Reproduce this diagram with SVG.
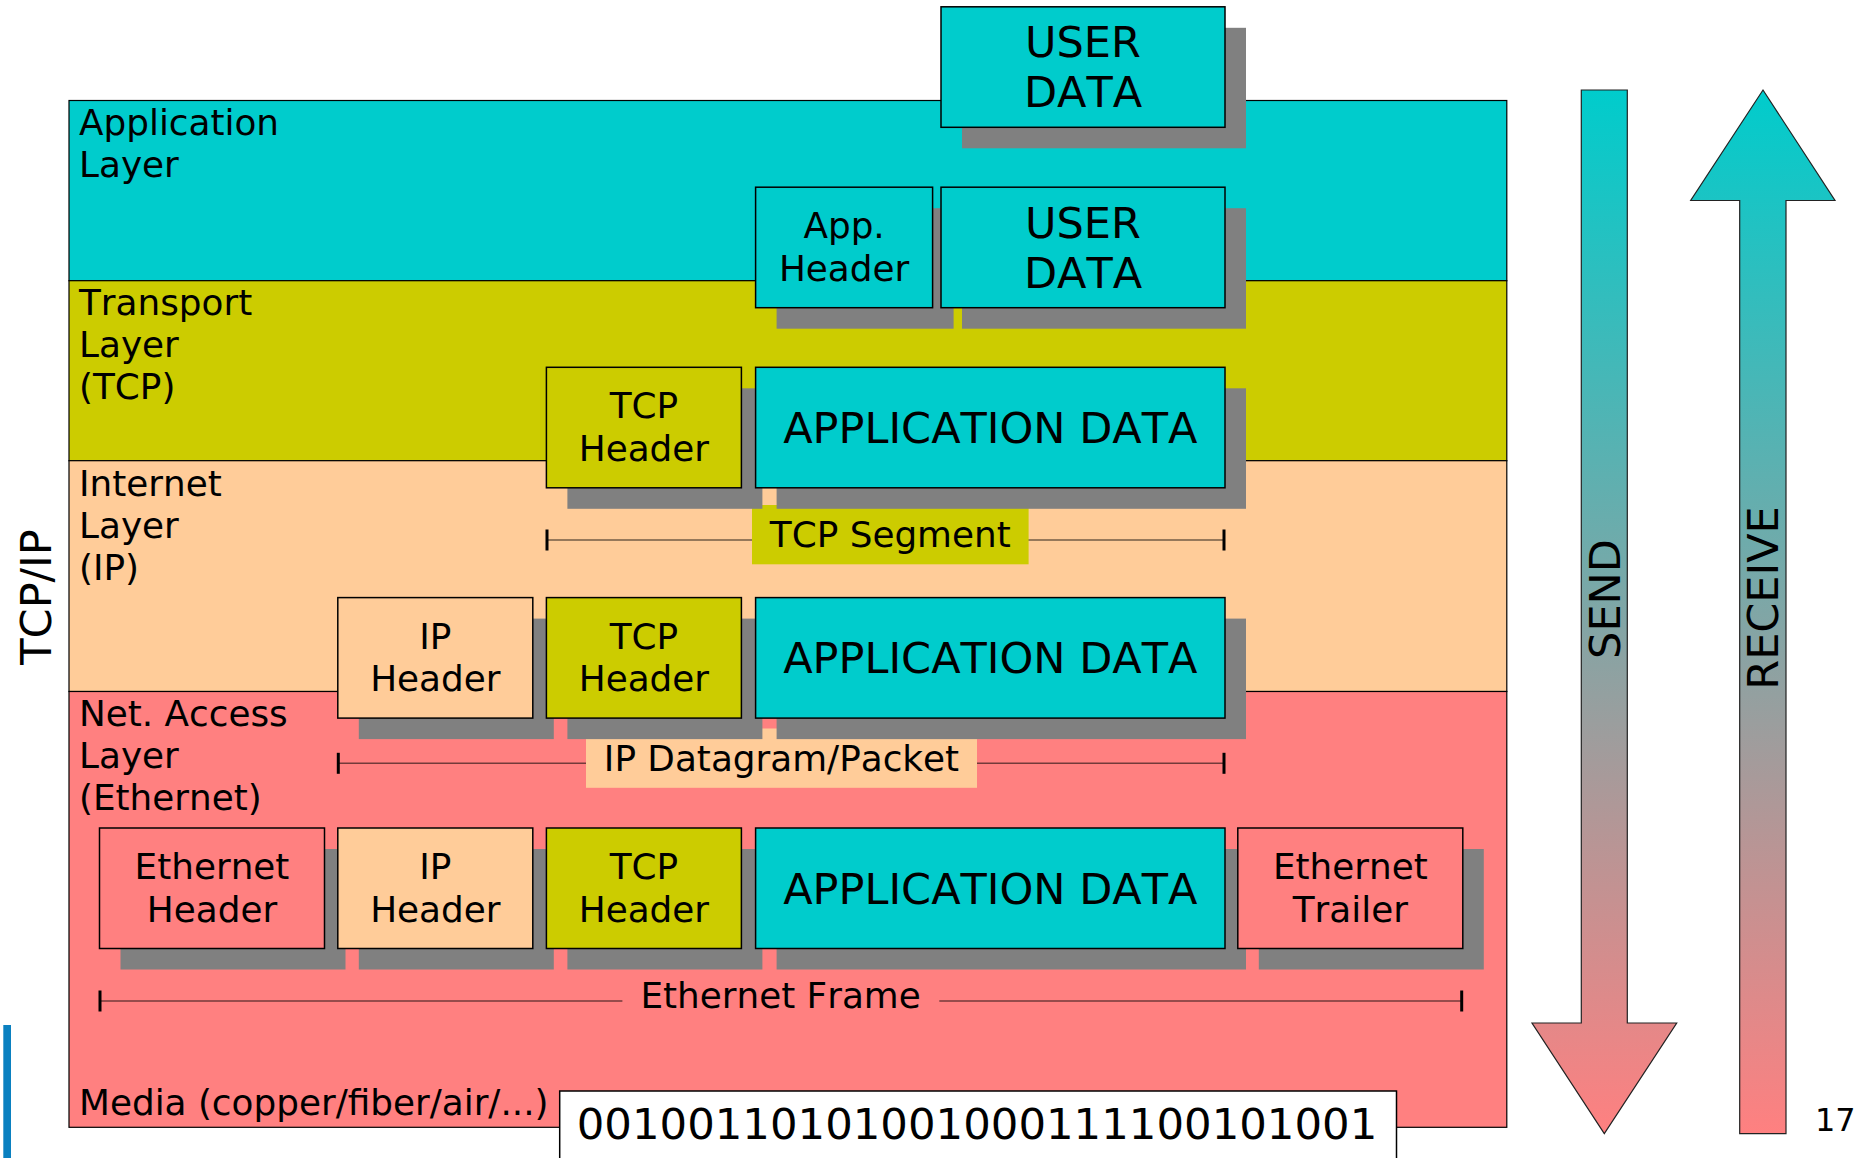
<svg xmlns="http://www.w3.org/2000/svg" width="1856" height="1158" viewBox="0 0 1856 1158">
<style>
  text { font-family: "DejaVu Sans", "Liberation Sans", sans-serif; fill: #000; font-kerning: none; }
  .lbl { font-size: 35.8px; }
  .big { font-size: 43px; }
  .mid { text-anchor: middle; }
  .box { stroke: #000; stroke-width: 1.5; }
  .sh { fill: #808080; }
  .cy { fill: #00cccc; }
  .ye { fill: #cccc00; }
  .or { fill: #ffcc99; }
  .sa { fill: #ff8080; }
  .layer { stroke: #000; stroke-width: 1.2; }
  .brk { stroke: #000; stroke-opacity: 0.55; stroke-width: 1.4; fill: none; }
  .tick { stroke: #000; stroke-width: 3; }
  .arrow { fill: url(#flow); stroke: #222; stroke-width: 1.2; }
</style>
<defs>
  <linearGradient id="flow" gradientUnits="userSpaceOnUse" x1="0" y1="90" x2="0" y2="1134">
    <stop offset="0" stop-color="#00cccc"/>
    <stop offset="1" stop-color="#ff8080"/>
  </linearGradient>
</defs>

<g id="layers">
  <rect class="layer cy" x="69" y="100.5" width="1437.8" height="180.2"/>
  <rect class="layer ye" x="69" y="280.7" width="1437.8" height="180"/>
  <rect class="layer or" x="69" y="460.7" width="1437.8" height="230.8"/>
  <rect class="layer sa" x="69" y="691.5" width="1437.8" height="435.8"/>
</g>

<g id="layer-labels" class="lbl">
  <text x="79" y="135">Application</text>
  <text x="79" y="177">Layer</text>
  <text x="79" y="315">Transport</text>
  <text x="79" y="357">Layer</text>
  <text x="79" y="399">(TCP)</text>
  <text x="79" y="496">Internet</text>
  <text x="79" y="538">Layer</text>
  <text x="79" y="580">(IP)</text>
  <text x="79" y="725.5">Net. Access</text>
  <text x="79" y="767.5">Layer</text>
  <text x="79" y="809.5">(Ethernet)</text>
  <text x="79" y="1115">Media (copper/fiber/air/...)</text>
</g>

<text id="tcpip-title" class="big mid" transform="translate(51,597) rotate(-90)">TCP/IP</text>

<g id="connectors">
  <line class="brk" x1="547" y1="540" x2="1224" y2="540"/>
  <line class="tick" x1="547" y1="529.5" x2="547" y2="550.5"/>
  <line class="tick" x1="1224" y1="529.5" x2="1224" y2="550.5"/>
  <line class="brk" x1="338.3" y1="763.3" x2="1224" y2="763.3"/>
  <line class="tick" x1="338.3" y1="752.8" x2="338.3" y2="773.8"/>
  <line class="tick" x1="1224" y1="752.8" x2="1224" y2="773.8"/>
  <line class="brk" x1="100" y1="1001" x2="622.4" y2="1001"/>
  <line class="brk" x1="939.3" y1="1001" x2="1461.7" y2="1001"/>
  <line class="tick" x1="100" y1="990.5" x2="100" y2="1011.5"/>
  <line class="tick" x1="1461.7" y1="990.5" x2="1461.7" y2="1011.5"/>
</g>

<g id="label-tcp-segment">
  <rect class="ye" x="752" y="505" width="276.6" height="59.3"/>
  <text class="lbl mid" x="890.3" y="546.5">TCP Segment</text>
</g>
<g id="label-ip-datagram">
  <rect class="or" x="586" y="728.5" width="391" height="59.3"/>
  <text class="lbl mid" x="781.5" y="771">IP Datagram/Packet</text>
</g>
<g id="label-ethernet-frame">
  <text class="lbl mid" x="780.6" y="1008">Ethernet Frame</text>
</g>

<!-- Row 0 -->
<g id="user-data-1">
  <rect class="sh" x="962" y="27.8" width="284" height="120.5"/>
  <rect class="box cy" x="941" y="6.8" width="284" height="120.5"/>
  <text class="big mid" x="1083" y="57">USER</text>
  <text class="big mid" x="1083" y="107">DATA</text>
</g>

<!-- Row 1 -->
<g id="app-header">
  <rect class="sh" x="776.6" y="208.2" width="177" height="120.5"/>
  <rect class="box cy" x="755.6" y="187.2" width="177" height="120.5"/>
  <text class="lbl mid" x="844.1" y="238">App.</text>
  <text class="lbl mid" x="844.1" y="280.5">Header</text>
</g>
<g id="user-data-2">
  <rect class="sh" x="962" y="208.2" width="284" height="120.5"/>
  <rect class="box cy" x="941" y="187.2" width="284" height="120.5"/>
  <text class="big mid" x="1083" y="237.5">USER</text>
  <text class="big mid" x="1083" y="287.5">DATA</text>
</g>

<!-- Row 2 -->
<g id="tcp-header-1">
  <rect class="sh" x="567.4" y="388.3" width="195" height="120.5"/>
  <rect class="box ye" x="546.4" y="367.3" width="195" height="120.5"/>
  <text class="lbl mid" x="643.9" y="418">TCP</text>
  <text class="lbl mid" x="643.9" y="460.5">Header</text>
</g>
<g id="app-data-1">
  <rect class="sh" x="776.6" y="388.3" width="469.4" height="120.5"/>
  <rect class="box cy" x="755.6" y="367.3" width="469.4" height="120.5"/>
  <text class="big mid" x="990.3" y="443">APPLICATION DATA</text>
</g>

<!-- Row 3 -->
<g id="ip-header-1">
  <rect class="sh" x="358.8" y="618.6" width="195" height="120.5"/>
  <rect class="box or" x="337.8" y="597.6" width="195" height="120.5"/>
  <text class="lbl mid" x="435.3" y="648.5">IP</text>
  <text class="lbl mid" x="435.3" y="691">Header</text>
</g>
<g id="tcp-header-2">
  <rect class="sh" x="567.4" y="618.6" width="195" height="120.5"/>
  <rect class="box ye" x="546.4" y="597.6" width="195" height="120.5"/>
  <text class="lbl mid" x="643.9" y="648.5">TCP</text>
  <text class="lbl mid" x="643.9" y="691">Header</text>
</g>
<g id="app-data-2">
  <rect class="sh" x="776.6" y="618.6" width="469.4" height="120.5"/>
  <rect class="box cy" x="755.6" y="597.6" width="469.4" height="120.5"/>
  <text class="big mid" x="990.3" y="673.3">APPLICATION DATA</text>
</g>

<!-- Row 4 -->
<g id="eth-header">
  <rect class="sh" x="120.5" y="849" width="225" height="120.5"/>
  <rect class="box sa" x="99.5" y="828" width="225" height="120.5"/>
  <text class="lbl mid" x="212" y="879">Ethernet</text>
  <text class="lbl mid" x="212" y="921.5">Header</text>
</g>
<g id="ip-header-2">
  <rect class="sh" x="358.8" y="849" width="195" height="120.5"/>
  <rect class="box or" x="337.8" y="828" width="195" height="120.5"/>
  <text class="lbl mid" x="435.3" y="879">IP</text>
  <text class="lbl mid" x="435.3" y="921.5">Header</text>
</g>
<g id="tcp-header-3">
  <rect class="sh" x="567.4" y="849" width="195" height="120.5"/>
  <rect class="box ye" x="546.4" y="828" width="195" height="120.5"/>
  <text class="lbl mid" x="643.9" y="879">TCP</text>
  <text class="lbl mid" x="643.9" y="921.5">Header</text>
</g>
<g id="app-data-3">
  <rect class="sh" x="776.6" y="849" width="469.4" height="120.5"/>
  <rect class="box cy" x="755.6" y="828" width="469.4" height="120.5"/>
  <text class="big mid" x="990.3" y="903.7">APPLICATION DATA</text>
</g>
<g id="eth-trailer">
  <rect class="sh" x="1258.8" y="849" width="225" height="120.5"/>
  <rect class="box sa" x="1237.8" y="828" width="225" height="120.5"/>
  <text class="lbl mid" x="1350.3" y="879">Ethernet</text>
  <text class="lbl mid" x="1350.3" y="921.5">Trailer</text>
</g>

<g id="bits">
  <rect x="559.7" y="1091" width="836.8" height="90" fill="#fff" stroke="#000" stroke-width="1.5"/>
  <text class="big mid" x="977" y="1139" style="font-size:43.4px">00100110101001000111100101001</text>
</g>

<g id="send-arrow">
  <polygon class="arrow" points="1581.3,90 1627.3,90 1627.3,1023 1676.7,1023 1604.3,1133.6 1532,1023 1581.3,1023"/>
  <text class="big mid" transform="translate(1620,599) rotate(-90)">SEND</text>
</g>
<g id="receive-arrow">
  <polygon class="arrow" points="1763,90 1835,200.5 1786,200.5 1786,1133.6 1739.7,1133.6 1739.7,200.5 1690.7,200.5"/>
  <text class="big mid" transform="translate(1777.5,598) rotate(-90)">RECEIVE</text>
</g>

<text id="page-number" x="1815" y="1131" style="font-size:32px">17</text>
<rect id="side-bar" x="3.3" y="1025" width="7.7" height="133" fill="#0a80c0"/>
</svg>
